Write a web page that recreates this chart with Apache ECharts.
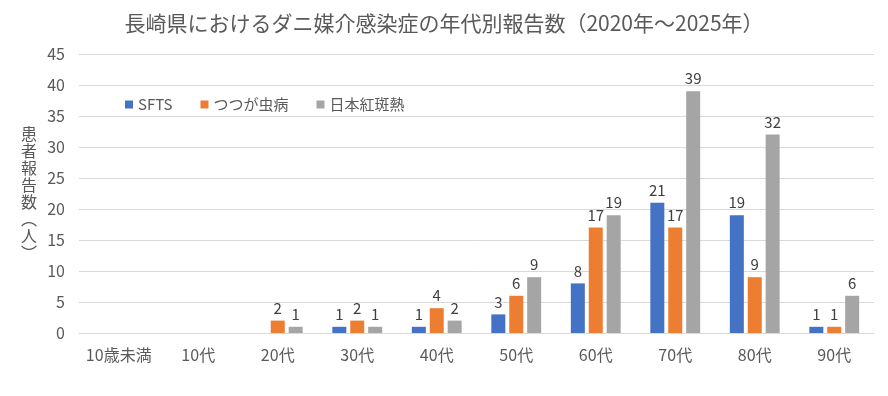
<!DOCTYPE html>
<html><head><meta charset="utf-8">
<script src="https://cdn.jsdelivr.net/npm/echarts@6/dist/echarts.min.js"></script>
<style>html,body{margin:0;padding:0;background:#fff}#c{width:888px;height:396px}</style>
</head><body><div id="c"></div>
<script>
const categories = ['10歳未満','10代','20代','30代','40代','50代','60代','70代','80代','90代'];
const sfts = [0,0,0,1,1,3,8,21,19,1];
const tsutsugamushi = [0,0,2,2,4,6,17,17,9,1];
const nihonKohan = [0,0,1,1,2,9,19,39,32,6];
const seriesNames = ['SFTS','つつが虫病','日本紅斑熱'];
const colors = ['#4472C4','#ED7D31','#A5A5A5'];
const FONT = '"Noto Sans CJK JP", "Noto Sans", sans-serif';

const chart = echarts.init(document.getElementById('c'), null, {renderer:'canvas'});
const mk = (name, data, color) => ({
  name, type:'bar', data, barWidth:14, barGap:'28%',
  itemStyle:{color},
  label:{show:true, position:'top', distance:5, color:'#404040', fontSize:15, fontFamily:FONT,
    formatter:p => p.value === 0 ? '' : String(p.value)}
});
chart.setOption({
  animation:false,
  textStyle:{fontFamily:FONT},
  title:{text:'長崎県におけるダニ媒介感染症の年代別報告数（2020年～2025年）', left:'center', top:8,
    textStyle:{fontSize:21, fontWeight:'normal', color:'#595959', fontFamily:FONT}},
  legend:{left:120, top:92, itemWidth:8, itemHeight:8, itemGap:28, icon:'rect',
    textStyle:{fontSize:15, color:'#595959', fontFamily:FONT}, data:seriesNames},
  grid:{left:79, right:14, top:54, bottom:63},
  xAxis:{type:'category', data:categories,
    axisLine:{lineStyle:{color:'#d9d9d9'}}, axisTick:{show:false},
    axisLabel:{interval:0, color:'#595959', fontSize:16, margin:14, fontFamily:FONT}},
  yAxis:{type:'value', min:0, max:45, interval:5,
    name:'患\n者\n報\n告\n数\n︵\n人\n︶', nameLocation:'middle', nameGap:42, nameRotate:0,
    nameTextStyle:{fontSize:16, color:'#595959', lineHeight:17, fontFamily:FONT},
    axisLine:{show:false}, axisTick:{show:false},
    axisLabel:{color:'#595959', fontSize:16, margin:14, fontFamily:FONT},
    splitLine:{lineStyle:{color:'#d9d9d9'}}},
  series:[mk(seriesNames[0], sfts, colors[0]), mk(seriesNames[1], tsutsugamushi, colors[1]), mk(seriesNames[2], nihonKohan, colors[2])]
});
</script></body></html>
